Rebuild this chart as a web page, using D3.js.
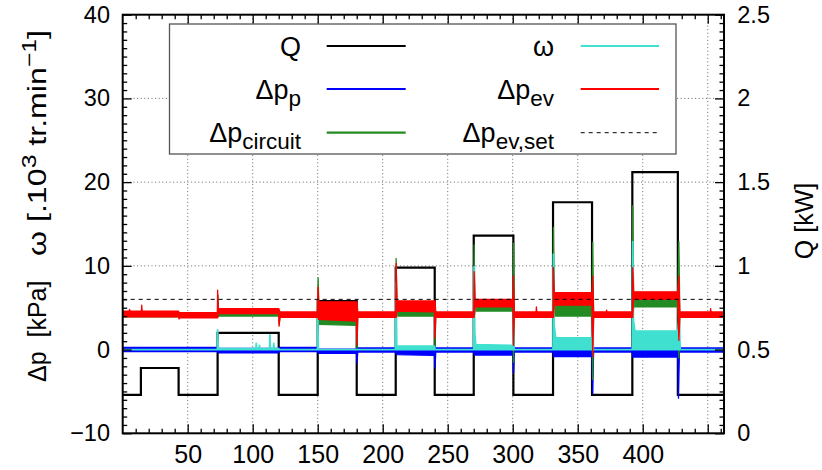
<!DOCTYPE html>
<html><head><meta charset="utf-8">
<script src="https://cdn.jsdelivr.net/npm/d3@7"></script>
<style>
body{margin:0;background:#fff}
svg{display:block}
text{font-family:"Liberation Sans",Arial,Helvetica,sans-serif;fill:#000;white-space:pre}
</style>
</head><body><svg id="c" width="822" height="470"></svg>
<script>
// ---------------- data ----------------
const timeRange = [0, 462.5];
const leftRange = [-10, 40];
const rightRange = [0, 2.5];
const leftTicks = [-10, 0, 10, 20, 30, 40];
const rightTicks = [0, 0.5, 1, 1.5, 2, 2.5];
const xTicks = [50, 100, 150, 200, 250, 300, 350, 400, 450];
const xTickLabels = ["50", "100", "150", "200", "250", "300", "350", "400", ""];

// Q [kW] step profile: [time, Q]
const qSteps = [[0,0.23],[14,0.39],[43,0.23],[73,0.60],[120,0.23],[150,0.79],[180,0.23],[210,0.99],[240,0.23],
  [270,1.18],[300.5,0.23],[331,1.38],[361,0.23],[392,1.56],[427,0.23],[462.5,0.23]];

// noisy signals as [time, low, high] envelopes (kPa or 10^3 tr/min)
const dpPump = [[0,-0.25,0.25],[73,-0.25,0.25],[73.5,-0.4,0.15],[120,-0.4,0.15],[120.5,-0.25,0.25],[150,-0.25,0.25],
  [150.5,-0.45,0.05],[179.8,-0.45,0.05],[180.2,-1.6,0.05],[180.8,-0.3,0.2],[210,-0.3,0.2],[210.5,-0.6,0],[239.8,-0.7,0],
  [240.2,-2.2,0],[240.8,-0.3,0.2],[270,-0.3,0.2],[270.5,-0.65,0],[300.2,-0.65,0],[300.6,-2.8,0],[301.2,-0.3,0.2],
  [331,-0.3,0.2],[331.5,-0.85,-0.1],[361,-0.85,-0.1],[361.5,-5.2,0],[362.2,-0.3,0.2],[392,-0.3,0.2],[392.5,-0.9,-0.1],
  [427,-0.9,-0.1],[427.5,-5.8,0],[428.2,-0.3,0.2],[462.5,-0.3,0.2]];

const dpCircuit = [[0,3.9,4.4],[73,3.9,4.4],[73.3,3.9,6.5],[73.8,4.0,4.4],[120,4.0,4.4],[120.3,3.0,4.3],[121,3.9,4.4],
  [150,3.9,4.4],[150.3,3.9,8.6],[151,3.0,5.0],[179.8,2.9,5.0],[180.2,0.15,5.0],[180.8,3.9,4.4],[210,3.9,4.4],
  [210.3,3.9,10.9],[211,4.0,5.0],[239.8,4.0,5.0],[240.2,0.35,5.0],[240.8,3.9,4.4],[270,3.9,4.4],[270.3,3.9,12.5],
  [271,4.6,5.3],[300.2,4.6,5.3],[300.6,-1.5,12.7],[301.2,3.9,4.4],[331,3.9,4.4],[331.3,3.9,14.6],[332,4.0,5.4],
  [361,4.0,5.4],[361.5,-3.6,12.8],[362.2,3.9,4.4],[392,3.9,4.4],[392.3,3.9,17.2],[393,5.1,6.2],[427,5.1,6.2],
  [427.8,-1.0,12.9],[428.5,3.9,4.4],[462.5,3.9,4.4]];

const omega = [[0,0,0],[72.8,0,0],[73,0,2.35],[73.5,0,0.1],[102.5,0,0.1],[102.7,0,0.75],[103,0,0.1],[105,0,0.1],
  [105.2,0,0.5],[105.5,0,0.1],[113,0,0.1],[113.2,0,1.75],[113.5,0,0.1],[116,0,0.1],[116.2,0,0.75],[116.5,0,0.1],
  [120,0,0.1],[120.3,0,0],[149.8,0,0],[150,0,4.0],[150.5,0,0],[209.8,0,0],[210.2,0,8.0],[210.8,0,0.4],[239.8,0,0.4],
  [240.2,0,0],[270,0,0],[270.3,0,9.9],[270.8,0,2.0],[271.5,0,0.6],[300.2,0,0.5],[300.6,0,4.4],[301,0,0],[331,0,0],
  [331.3,0,11.4],[331.8,0,3.0],[333,0,1.4],[361,0,1.4],[361.5,0,4.0],[362,0,0],[392,0,0],[392.3,0,12.9],[392.8,0,3.5],
  [394,0,2.2],[427,0,2.2],[428,0,3.9],[428.8,0,0],[462.5,0,0]];

const dpEv = [[0,3.9,4.6],[5,3.9,4.6],[5.3,3.9,4.8],[5.6,3.9,4.6],[14.4,3.9,4.6],[14.6,3.9,5.3],[15,3.9,4.6],
  [43,3.9,4.6],[43.4,3.65,4.4],[44,3.8,4.4],[72.8,3.8,4.4],[73,3.8,7.1],[73.5,4.3,4.9],[120,4.3,4.9],[120.3,2.8,4.8],
  [121,3.85,4.5],[149.8,3.85,4.5],[150.2,3.85,7.5],[150.7,3.6,5.7],[179.8,3.4,5.7],[180.2,0.55,5.7],[180.8,3.85,4.5],
  [210,3.85,4.5],[210.3,3.85,10.3],[211,4.6,5.8],[239.8,4.5,5.8],[240.2,1.35,5.8],[240.8,3.85,4.5],[270,3.85,4.5],
  [270.3,3.85,9.3],[271,5.1,6.0],[300.2,5.1,6.0],[300.6,0.5,8.8],[301.2,3.85,4.5],[318,3.85,4.5],[318.2,3.85,5.1],
  [318.5,3.85,4.5],[331,3.85,4.5],[331.3,3.85,9.8],[332,5.3,6.8],[361,5.3,6.8],[361.5,-0.85,8.8],[362.2,3.85,4.5],
  [372,3.85,4.5],[372.2,3.85,4.7],[372.5,3.85,4.5],[392,3.85,4.5],[392.3,3.85,9.8],[393,6.0,6.9],[427,6.0,6.9],
  [427.8,1.1,8.8],[428.5,3.85,4.5],[452,3.85,4.5],[452.2,3.85,4.9],[452.5,3.85,4.5],[462.5,3.85,4.5]];

const dpEvSet = 6;

const legendItems = [
  {main:"Q", sub:"", color:"#000000", dash:null, col:0, row:0},
  {main:"Δp", sub:"p", color:"#0000ff", dash:null, col:0, row:1},
  {main:"Δp", sub:"circuit", color:"#228b22", dash:null, col:0, row:2},
  {main:"ω", sub:"", color:"#40e0d0", dash:null, col:1, row:0},
  {main:"Δp", sub:"ev", color:"#ff0000", dash:null, col:1, row:1},
  {main:"Δp", sub:"ev,set", color:"#000000", dash:"4,4", col:1, row:2}
];

// ---------------- layout ----------------
const L = 122.7, R = 724, T = 14.7, B = 433.3;
const svg = d3.select("#c");
const x = d3.scaleLinear(timeRange, [L, R]);
const y = d3.scaleLinear(leftRange, [B, T]);
const y2 = d3.scaleLinear(rightRange, [B, T]);

svg.append("defs").append("clipPath").attr("id","clip")
  .append("rect").attr("x",L).attr("y",T).attr("width",R-L).attr("height",B-T);

// grid
const grid = svg.append("g").attr("stroke","#666").attr("stroke-width",1).attr("stroke-dasharray","1,2.6");
grid.selectAll("line.v").data(xTicks).join("line")
  .attr("x1",d=>x(d)).attr("x2",d=>x(d)).attr("y1",T).attr("y2",B);
grid.selectAll("line.h").data(leftTicks.filter(d=>d>leftRange[0]&&d<leftRange[1])).join("line")
  .attr("x1",L).attr("x2",R).attr("y1",d=>y(d)).attr("y2",d=>y(d));

// series
const plot = svg.append("g").attr("clip-path","url(#clip)");
const qLine = d3.line().x(d=>x(d[0])).y(d=>y2(d[1])).curve(d3.curveStepAfter);
plot.append("path").datum(qSteps).attr("d",qLine).attr("fill","none").attr("stroke","#000").attr("stroke-width",2.2);

const band = d3.area().x(d=>x(d[0])).y0(d=>y(d[1])).y1(d=>y(d[2]));
function drawBand(data, color, w){
  plot.append("path").datum(data).attr("d",band).attr("fill",color).attr("stroke",color)
    .attr("stroke-width",w).attr("stroke-linejoin","round");
}
drawBand(dpPump, "#0000ff", 1.3);
drawBand(dpCircuit, "#228b22", 1.3);
drawBand(omega, "#40e0d0", 1.8);
drawBand(dpEv, "#ff0000", 1.3);

plot.append("line").attr("x1",x(timeRange[0])).attr("x2",x(timeRange[1]))
  .attr("y1",y(dpEvSet)).attr("y2",y(dpEvSet)).attr("stroke","#000").attr("stroke-width",1)
  .attr("stroke-dasharray","4,4");

// axes
function styleAxis(g){ g.select(".domain").remove(); g.selectAll("line").attr("stroke","#000").attr("stroke-width",1.3); }
const fs = {y:"23.5px", x:"25px"};

const minorLeft = d3.range(leftRange[0], leftRange[1]+0.001, 1).filter(v=>v%10!==0);
const minorX = d3.range(10, timeRange[1], 10).filter(v=>v%50!==0);

svg.append("g").attr("transform",`translate(${L},0)`)
  .call(d3.axisLeft(y).tickValues(leftTicks).tickSize(-9).tickPadding(12.7))
  .call(styleAxis).call(g=>g.selectAll("text").style("font-size",fs.y));
svg.append("g").attr("transform",`translate(${L},0)`)
  .call(d3.axisLeft(y).tickValues(minorLeft).tickSize(-4.5).tickFormat(""))
  .call(styleAxis);

svg.append("g").attr("transform",`translate(${R},0)`)
  .call(d3.axisRight(y2).tickValues(rightTicks).tickSize(-9).tickPadding(13.3).tickFormat(d3.format("~g")))
  .call(styleAxis).call(g=>g.selectAll("text").style("font-size",fs.y));
svg.append("g").attr("transform",`translate(${R},0)`)
  .call(d3.axisRight(y2).tickValues(d3.range(0,2.5001,0.05).filter(v=>Math.abs(v*2-Math.round(v*2))>1e-6)).tickSize(-4.5).tickFormat(""))
  .call(styleAxis);

svg.append("g").attr("transform",`translate(0,${B})`)
  .call(d3.axisBottom(x).tickValues(xTicks).tickSize(-9).tickPadding(12.3).tickFormat((d,i)=>xTickLabels[i]))
  .call(styleAxis).call(g=>g.selectAll("text").style("font-size",fs.x));
svg.append("g").attr("transform",`translate(0,${B})`)
  .call(d3.axisBottom(x).tickValues(minorX).tickSize(-4.5).tickFormat(""))
  .call(styleAxis);
svg.append("g").attr("transform",`translate(0,${T})`)
  .call(d3.axisTop(x).tickValues(xTicks).tickSize(-9).tickFormat(""))
  .call(styleAxis);
svg.append("g").attr("transform",`translate(0,${T})`)
  .call(d3.axisTop(x).tickValues(minorX).tickSize(-4.5).tickFormat(""))
  .call(styleAxis);

// border
svg.append("rect").attr("x",L).attr("y",T).attr("width",R-L).attr("height",B-T)
  .attr("fill","none").attr("stroke","#000").attr("stroke-width",2);

// legend
const lg = svg.append("g");
lg.append("rect").attr("x",169.5).attr("y",24).attr("width",506.5).attr("height",130)
  .attr("fill","#fff").attr("stroke","#555").attr("stroke-width",1.3);
const rowY = [46, 89, 132.7];
const colText = [301, 554];
const colLine = [[326.7,405.7],[580.7,659]];
legendItems.forEach(it=>{
  const yy = rowY[it.row];
  const t = lg.append("text").attr("x",colText[it.col]).attr("y",yy+9.5).attr("text-anchor","end")
    .style("font-size","27px");
  t.append("tspan").text(it.main);
  if(it.sub) t.append("tspan").attr("dy",7).style("font-size","22.5px").text(it.sub);
  lg.append("line").attr("x1",colLine[it.col][0]).attr("x2",colLine[it.col][1]).attr("y1",yy).attr("y2",yy)
    .attr("stroke",it.color).attr("stroke-width",it.dash?1:2.2).attr("stroke-dasharray",it.dash);
});

// axis titles
const lt1 = svg.append("text").attr("transform","translate(46,382) rotate(-90)").attr("text-anchor","start")
  .style("font-size","25px");
lt1.append("tspan").text("Δp  [kPa]");
const lt2 = svg.append("text").attr("transform","translate(46,30) rotate(-90)").attr("text-anchor","end")
  .style("font-size","26px").attr("textLength",226).attr("lengthAdjust","spacingAndGlyphs");
lt2.append("tspan").text("ω [.10");
lt2.append("tspan").attr("dy",-10).style("font-size","20px").text("3");
lt2.append("tspan").attr("dy",10).text(" tr.min");
lt2.append("tspan").attr("dy",-10).style("font-size","20px").text("−1");
lt2.append("tspan").attr("dy",10).text("]");

svg.append("text").attr("transform","translate(813,221) rotate(-90)").attr("text-anchor","middle")
  .style("font-size","25px").text("Q [kW]");
</script>
</body></html>
